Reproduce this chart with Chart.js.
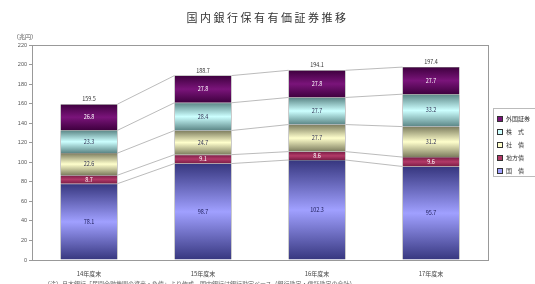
<!DOCTYPE html>
<html lang="ja">
<head>
<meta charset="utf-8">
<script src="https://cdn.jsdelivr.net/npm/chart.js@4.4.0/dist/chart.umd.min.js"></script>
<style>
  html, body { margin: 0; padding: 0; background: #fff; }
  #wrap { position: relative; width: 535px; height: 284px; overflow: hidden; font-family: "Noto Sans CJK JP", sans-serif; }
  #chart { position: absolute; left: 0; top: 0; }
  #title { position: absolute; left: 0; width: 535px; top: 9px; text-align: center; font-size: 11px; color: #333; letter-spacing: 2.5px; }
  #unit { position: absolute; left: 13px; top: 32px; font-size: 6px; color: #555; }
  #note { position: absolute; left: 44px; top: 279px; font-size: 6px; color: #666; white-space: nowrap; }
  #legend { position: absolute; left: 493px; top: 108px; width: 50px; height: 69px; border: 1px solid #bbb; box-sizing: border-box; padding-top: 3px; }
  #legend div { height: 13px; line-height: 13px; font-size: 6px; color: #333; padding-left: 3px; white-space: nowrap; }
  #legend span { display: inline-block; width: 4px; height: 4px; margin-right: 3px; vertical-align: middle; }
</style>
</head>
<body>
<div id="wrap">
  <canvas id="chart" width="535" height="284"></canvas>
  <div id="title">国内銀行保有有価証券推移</div>
  <div id="unit">（兆円）</div>
  <div id="legend"></div>
  <div id="note">（注）日本銀行「民間金融機関の資産・負債」より作成。国内銀行は銀行勘定ベース（銀行勘定・信託勘定の合計）</div>
</div>
<script>
// 年度末
const years = ['14年度末', '15年度末', '16年度末', '17年度末'];
// 各系列（兆円）
const kokusai   = [78.1, 98.7, 102.3, 95.7];   // 国債
const chihousai = [8.7, 9.1, 8.6, 9.6];        // 地方債
const shasai    = [22.6, 24.7, 27.7, 31.2];    // 社債
const kabushiki = [23.3, 28.4, 27.7, 33.2];    // 株式
const gaikoku   = [26.8, 27.8, 27.8, 27.7];    // 外国証券
const yTicks = [0, 20, 40, 60, 80, 100, 120, 140, 160, 180, 200, 220];

const series = [
  { label: '国　債', data: kokusai, edge: '#36367e', mid: '#a0a0ff', text: '#1a1a55' },
  { label: '地方債', data: chihousai, edge: '#7a1c45', mid: '#b23a68', text: '#fff' },
  { label: '社　債', data: shasai, edge: '#7c7c5e', mid: '#ffffcc', text: '#333355' },
  { label: '株　式', data: kabushiki, edge: '#5a8585', mid: '#ccffff', text: '#333355' },
  { label: '外国証券', data: gaikoku, edge: '#3e003e', mid: '#7a147a', text: '#fff' }
];

const stackBase = (si, i) => {
  let s = 0;
  for (let k = 0; k < si; k++) s += series[k].data[i];
  return s;
};

const makeFill = (si) => (c) => {
  const chart = c.chart;
  const s = series[si];
  if (!chart.chartArea || c.dataIndex === undefined) return s.mid;
  const y = chart.scales.y;
  const b = stackBase(si, c.dataIndex);
  const y0 = y.getPixelForValue(b + s.data[c.dataIndex]);
  const y1 = y.getPixelForValue(b);
  const g = chart.ctx.createLinearGradient(0, y0, 0, y1);
  g.addColorStop(0, s.edge);
  g.addColorStop(0.5, s.mid);
  g.addColorStop(1, s.edge);
  return g;
};

// 系列線・枠・数値ラベル
const decor = {
  id: 'decor',
  beforeDatasetsDraw(chart) {
    const { ctx, chartArea: a } = chart;
    ctx.save();
    ctx.strokeStyle = '#999';
    ctx.lineWidth = 1;
    ctx.strokeRect(a.left + 0.5, a.top + 0.5, a.right - a.left, a.bottom - a.top);
    ctx.strokeStyle = '#aaa';
    ctx.lineWidth = 0.8;
    series.forEach((s, si) => {
      const meta = chart.getDatasetMeta(si);
      for (let i = 0; i < years.length - 1; i++) {
        const p = meta.data[i], q = meta.data[i + 1];
        ctx.beginPath();
        ctx.moveTo(p.x + p.width / 2, p.y);
        ctx.lineTo(q.x - q.width / 2, q.y);
        ctx.stroke();
      }
    });
    ctx.restore();
  },
  afterDatasetsDraw(chart) {
    const { ctx } = chart;
    ctx.save();
    ctx.font = '5.5px "Noto Sans CJK JP", sans-serif';
    ctx.textAlign = 'center';
    ctx.textBaseline = 'middle';
    series.forEach((s, si) => {
      const meta = chart.getDatasetMeta(si);
      meta.data.forEach((el, i) => {
        ctx.fillStyle = s.text;
        ctx.fillText(s.data[i].toFixed(1), el.x, (el.y + el.base) / 2);
      });
    });
    const top = chart.getDatasetMeta(series.length - 1);
    ctx.fillStyle = '#333';
    top.data.forEach((el, i) => {
      const total = stackBase(series.length, i);
      ctx.fillText(total.toFixed(1), el.x, el.y - 5);
    });
    ctx.restore();
  }
};

new Chart(document.getElementById('chart'), {
  type: 'bar',
  data: {
    labels: years,
    datasets: series.map((s, si) => ({
      label: s.label,
      data: s.data,
      backgroundColor: makeFill(si),
      borderColor: '#333',
      borderWidth: 0.5,
      categoryPercentage: 0.5,
      barPercentage: 1
    }))
  },
  options: {
    responsive: false,
    animation: false,
    layout: { padding: { left: 0, right: 47, top: 45, bottom: 0 } },
    plugins: { legend: { display: false }, tooltip: { enabled: false }, title: { display: false } },
    scales: {
      x: {
        stacked: true,
        grid: { display: false },
        border: { color: '#999' },
        ticks: { color: '#444', font: { size: 6, family: '"Noto Sans CJK JP", sans-serif' }, padding: 2 },
        afterFit: (s) => { s.height = 24; }
      },
      y: {
        stacked: true,
        min: 0, max: 220,
        afterBuildTicks: (s) => { s.ticks = yTicks.map(v => ({ value: v })); },
        grid: { drawOnChartArea: false, tickLength: 3, color: '#999' },
        border: { color: '#999' },
        ticks: { color: '#555', font: { size: 5.5 }, padding: 2 },
        afterFit: (s) => { s.width = 32; }
      }
    }
  },
  plugins: [decor]
});

// 凡例（上から外国証券→国債）
const legend = document.getElementById('legend');
series.slice().reverse().forEach(s => {
  const row = document.createElement('div');
  row.innerHTML = `<span style="background:${s.mid};border:0.5px solid #333"></span>${s.label}`;
  legend.appendChild(row);
});
</script>
</body>
</html>
